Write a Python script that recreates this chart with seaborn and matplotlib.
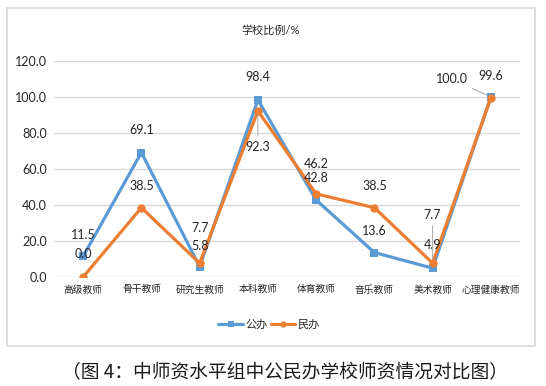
import matplotlib
matplotlib.use("Agg")
import matplotlib.pyplot as plt
from matplotlib.patches import Rectangle
from matplotlib.lines import Line2D
import seaborn as sns
import pandas as pd

categories = ["高级教师", "骨干教师", "研究生教师", "本科教师", "体育教师", "音乐教师", "美术教师", "心理健康教师"]
public_vals = [11.5, 69.1, 5.8, 98.4, 42.8, 13.6, 4.9, 100.0]
private_vals = [0.0, 38.5, 7.7, 92.3, 46.2, 38.5, 7.7, 99.6]
series_names = ["公办", "民办"]
yticks = [0, 20, 40, 60, 80, 100, 120]
title = "学校比例/%"
caption = "（图 4：中师资水平组中公民办学校师资情况对比图）"

# label offsets in pixels (dx, dy) and whether a leader line is drawn
pub_off = [(0, 21), (0, 23), (0, 21), (0, 23), (0, 22), (0, 22), (0, 23), (-39, 18)]
pub_lead = [False, False, False, False, False, False, False, True]
pri_off = [(0, 23), (0, 22), (0, 35), (0, -36), (0, 30), (0, 22), (0, 48), (0, 22)]
pri_lead = [False, False, False, True, False, False, True, False]

sns.set_theme(style="white")
plt.rcParams["font.family"] = ["Lato", "Noto Sans CJK SC", "DejaVu Sans"]

BLUE = "#5B9BD5"
ORANGE = "#ED7D31"
GRID = "#D9D9D9"
TXT = "#262626"

fig = plt.figure(figsize=(5.46, 3.86), dpi=100)
fig.patch.set_facecolor("white")
W, H = 546, 386
ax = fig.add_axes([54 / W, 1 - 277 / H, (520 - 54) / W, (277 - 61) / H])

df_pub = pd.DataFrame({"cat": categories, "val": public_vals})
df_pri = pd.DataFrame({"cat": categories, "val": private_vals})

sns.lineplot(data=df_pub, x="cat", y="val", sort=False, color=BLUE, lw=2.3,
             marker="s", markersize=5.5, markeredgewidth=0, ax=ax, zorder=3)
sns.lineplot(data=df_pri, x="cat", y="val", sort=False, color=ORANGE, lw=2.3,
             marker="o", markersize=6, markeredgewidth=0, ax=ax, zorder=4)

ax.set_xlim(-0.5, len(categories) - 0.5)
ax.set_ylim(0, 120)
ax.set_yticks(yticks)
ax.set_yticklabels([f"{v:.1f}" for v in yticks], fontsize=9, color=TXT)
ax.set_xticks(range(len(categories)))
ax.set_xticklabels(categories, fontsize=7, color=TXT)
ax.tick_params(axis="y", length=0, pad=5)
ax.tick_params(axis="x", length=0, pad=6)
ax.set_xlabel("")
ax.set_ylabel("")
for s in ax.spines.values():
    s.set_visible(False)
ax.grid(axis="y", color=GRID, lw=1)
ax.set_axisbelow(True)


def label(vals, offs, leads):
    for i, (v, (dx, dy), lead) in enumerate(zip(vals, offs, leads)):
        kw = {}
        if lead:
            kw["arrowprops"] = dict(arrowstyle="-", color="#A6A6A6", lw=0.7,
                                    shrinkA=1, shrinkB=3)
        ax.annotate(f"{v:.1f}", xy=(i, v), xytext=(dx, dy), textcoords="offset pixels",
                    ha="center", va="center", fontsize=9, color=TXT,
                    annotation_clip=False, zorder=6, **kw)


label(public_vals, pub_off, pub_lead)
label(private_vals, pri_off, pri_lead)

fig.text(271 / W, 1 - 30 / H, title, ha="center", va="center", fontsize=8, color=TXT)

handles = [Line2D([], [], color=BLUE, lw=2.3, marker="s", markersize=4.5, markeredgewidth=0),
           Line2D([], [], color=ORANGE, lw=2.3, marker="o", markersize=4.5, markeredgewidth=0)]
fig.legend(handles, series_names, loc="center", bbox_to_anchor=(269 / W, 1 - 324 / H),
           ncol=2, frameon=False, fontsize=8, handlelength=2.2, handletextpad=0.2,
           columnspacing=0.3, labelcolor=TXT)

fig.patches.append(Rectangle((7 / W, 1 - 346 / H), (535 - 7) / W, (346 - 8) / H,
                             transform=fig.transFigure, fill=False, ec=GRID, lw=1.2))

fig.text(285 / W, 1 - 373 / H, caption, ha="center", va="center", fontsize=13.5,
         color="#1a1a1a", fontweight="medium", family=["Noto Sans CJK SC", "DejaVu Sans"])

fig.savefig("out.png", dpi=100)
